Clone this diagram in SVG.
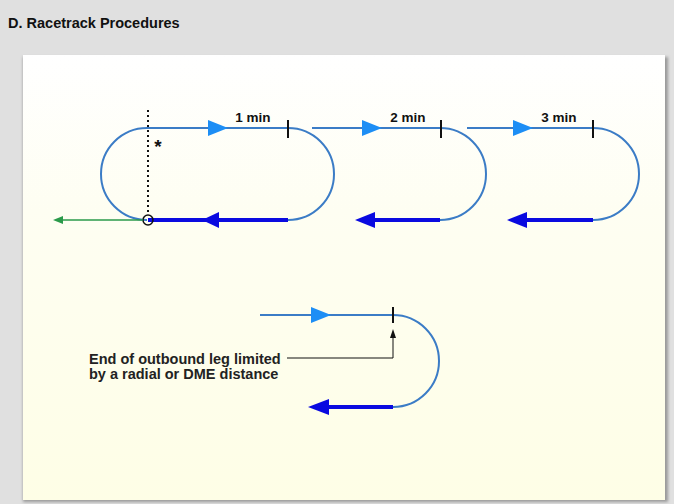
<svg xmlns="http://www.w3.org/2000/svg" width="674" height="504" viewBox="0 0 674 504">
  <defs>
    <linearGradient id="panelGrad" x1="0" y1="0" x2="0" y2="1">
      <stop offset="0" stop-color="#ffffff"/>
      <stop offset="0.35" stop-color="#fefef2"/>
      <stop offset="1" stop-color="#fefee6"/>
    </linearGradient>
    <filter id="shadow" x="-5%" y="-5%" width="110%" height="110%">
      <feGaussianBlur stdDeviation="1.5"/>
    </filter>
  </defs>
  <style>
    .track { fill: none; stroke: #3b7cc6; stroke-width: 2; }
    .inbound { fill: none; stroke: #0a0ae0; stroke-width: 4; }
    .outArrow { fill: #1d8ef5; }
    .inArrow { fill: #0a0ae0; }
    .tick { stroke: #111; stroke-width: 2; }
    .lbl { font-family: "Liberation Sans", Arial, sans-serif; font-weight: bold; font-size: 13.5px; fill: #111; }
    .note { font-family: "Liberation Sans", Arial, sans-serif; font-weight: bold; font-size: 14.5px; fill: #222; }
    .title { font-family: "Liberation Sans", Arial, sans-serif; font-weight: bold; font-size: 14.5px; fill: #111; }
  </style>

  <!-- background -->
  <rect x="0" y="0" width="674" height="504" fill="#e0e0e0"/>
  <text class="title" x="8" y="28">D. Racetrack Procedures</text>
  <rect x="23" y="57" width="645" height="445" fill="#9a9a9a" filter="url(#shadow)"/>
  <rect x="23" y="55" width="642" height="445" fill="url(#panelGrad)"/>

  <!-- track 1 -->
  <g id="track1">
    <path class="track" d="M147,220 A46,46 0 0 1 147,128 L288,128 A46,46 0 0 1 288,220"/>
    <line class="inbound" x1="148" y1="220" x2="288" y2="220"/>
    <polygon class="outArrow" points="208,120 228,128 208,136"/>
    <polygon class="inArrow" points="202,220 219,212 219,228"/>
    <line class="tick" x1="288" y1="120" x2="288" y2="138"/>
    <text class="lbl" x="253" y="122" text-anchor="middle">1 min</text>
  </g>

  <!-- fix and departure -->
  <g id="fix">
    <line x1="148" y1="110" x2="148" y2="215" stroke="#111" stroke-width="2" stroke-dasharray="2,3"/>
    <text x="158" y="153" font-family="Liberation Sans, Arial, sans-serif" font-weight="bold" font-size="19" fill="#111" text-anchor="middle">*</text>
    <circle cx="148" cy="220" r="5" fill="none" stroke="#111" stroke-width="1.5"/>
  </g>

  <!-- track 2 -->
  <g id="track2">
    <path class="track" d="M312,128 L440,128 A46,46 0 0 1 440,220"/>
    <line class="inbound" x1="372" y1="220" x2="440" y2="220"/>
    <polygon class="outArrow" points="362,120 382,128 362,136"/>
    <polygon class="inArrow" points="355,220 375,212 375,228"/>
    <line class="tick" x1="441" y1="120" x2="441" y2="138"/>
    <text class="lbl" x="408" y="122" text-anchor="middle">2 min</text>
  </g>

  <!-- track 3 -->
  <g id="track3">
    <path class="track" d="M467,128 L593,128 A46,46 0 0 1 593,220"/>
    <line class="inbound" x1="524" y1="220" x2="593" y2="220"/>
    <polygon class="outArrow" points="513,120 533,128 513,136"/>
    <polygon class="inArrow" points="507,220 527,212 527,228"/>
    <line class="tick" x1="593" y1="120" x2="593" y2="138"/>
    <text class="lbl" x="559" y="122" text-anchor="middle">3 min</text>
  </g>

  <!-- track 4 (limited outbound leg) -->
  <g id="track4">
    <path class="track" d="M260,315 L393,315 A46,46 0 0 1 393,407"/>
    <line class="inbound" x1="327" y1="407" x2="393" y2="407"/>
    <polygon class="outArrow" points="311,307 331,315 311,323"/>
    <polygon class="inArrow" points="308,407 329,399 329,415"/>
    <line class="tick" x1="393" y1="307" x2="393" y2="323"/>
  </g>

  <g id="note">
    <text class="note" x="89" y="364">End of outbound leg limited</text>
    <text class="note" x="89" y="379">by a radial or DME distance</text>
  </g>

  <!-- connectors -->
  <g id="connectors">
    <line x1="143" y1="220" x2="62" y2="220" stroke="#2a9a4a" stroke-width="1.5"/>
    <polygon points="53,220 63,216 63,224" fill="#2a9a4a"/>
    <polyline points="287,358 393,358 393,337" fill="none" stroke="#111" stroke-width="1"/>
    <polygon points="393,329 396,338 390,338" fill="#111"/>
  </g>
</svg>
